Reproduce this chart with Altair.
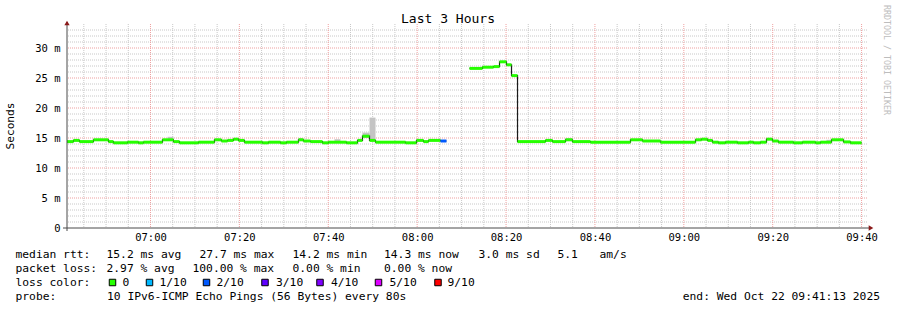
import altair as alt
import pandas as pd

FONT = "DejaVu Sans Mono"
W, H = 800, 204          # plot area
X0, Y0 = 67, 24          # plot origin inside the 897x310 window

# ---------------- data ----------------
t_start = "06:41:13"
t_end = "09:41:13"

# median rtt runs: start time, value (ms), loss (tenths); None = no data (100% loss)
seg_start = [
    "06:41:13", "06:42:40", "06:44:02", "06:47:10", "06:50:33", "06:51:40", "06:54:50",
    "06:57:18", "06:58:25", "07:02:42", "07:05:10", "07:06:32", "07:10:48", "07:14:24",
    "07:15:58", "07:17:20", "07:18:40", "07:19:48", "07:21:09", "07:25:12", "07:26:33",
    "07:29:15", "07:30:36", "07:33:18", "07:34:25", "07:36:00", "07:38:42", "07:40:03",
    "07:44:06", "07:46:35", "07:47:42", "07:49:17", "07:50:38", "07:57:23", "07:59:51",
    "08:01:26", "08:02:33", "08:05:15", "08:06:36",
    "08:11:47", "08:14:42", "08:17:11", "08:18:32", "08:20:06", "08:21:14", "08:22:35",
    "08:28:53", "08:30:27", "08:33:23", "08:34:57", "08:39:00", "08:48:00", "08:50:42",
    "08:54:45", "09:02:38", "09:03:59", "09:05:20", "09:06:27", "09:07:48", "09:09:23",
    "09:12:05", "09:14:33", "09:15:41", "09:17:15", "09:18:36", "09:19:57", "09:21:18",
    "09:24:41", "09:26:42", "09:29:38", "09:30:45", "09:33:14", "09:35:56", "09:37:30",
]
seg_ms = [
    14.4, 14.6, 14.4, 14.7, 14.4, 14.2, 14.3,
    14.2, 14.3, 14.7, 14.4, 14.2, 14.3, 14.7,
    14.5, 14.6, 14.8, 14.6, 14.3, 14.2, 14.3,
    14.2, 14.3, 14.7, 14.5, 14.4, 14.2, 14.3,
    14.2, 14.6, 15.3, 14.6, 14.3, 14.2, 14.6,
    14.4, 14.6, 14.5, None,
    26.6, 26.8, 26.9, 27.7, 27.2, 25.4, 14.4,
    14.6, 14.4, 14.7, 14.4, 14.3, 14.7, 14.5,
    14.3, 14.7, 14.8, 14.6, 14.3, 14.2, 14.3,
    14.2, 14.3, 14.2, 14.3, 14.8, 14.5, 14.3,
    14.2, 14.3, 14.2, 14.3, 14.7, 14.35, 14.2,
]
seg_loss = [0] * 37 + [2, None] + [0] * 35
last_end = "09:40:00"

# smoke (spread of the pings)
smoke_start = ["06:47:58", "07:03:50", "07:33:18", "07:41:24", "07:47:42", "07:49:17", "08:33:23", "09:32:06"]
smoke_end = ["06:49:19", "07:05:10", "07:34:25", "07:42:45", "07:49:17", "07:50:38", "08:34:57", "09:33:14"]
smoke_lo = [14.5, 14.7, 14.6, 14.3, 15.0, 14.8, 14.6, 14.3]
smoke_hi = [14.85, 15.2, 15.0, 14.8, 15.9, 18.4, 15.0, 14.7]

# axis ticks
y_major = [0, 5, 10, 15, 20, 25, 30]
x_major = ["07:00", "07:20", "07:40", "08:00", "08:20", "08:40", "09:00", "09:20", "09:40"]

# legend
loss_labels = ["0", "1/10", "2/10", "3/10", "4/10", "5/10", "9/10"]
loss_colors = ["#26ff00", "#00b8ff", "#0059ff", "#5e00ff", "#7e00ff", "#dd00ff", "#ff0000"]
loss_keys = ["0", "1", "2", "3", "4", "5", "9"]

line1 = ["median rtt:", "15.2 ms avg", "27.7 ms max", "14.2 ms min", "14.3 ms now", "3.0 ms sd", "5.1", "am/s"]
line2 = ["packet loss:", "2.97 % avg", "100.00 % max", "0.00 % min", "0.00 % now"]
probe_txt = ["probe:", "10 IPv6-ICMP Echo Pings (56 Bytes) every 80s"]
end_txt = "end: Wed Oct 22 09:41:13 2025"
title_txt = "Last 3 Hours"
ytitle_txt = "Seconds"
credit_txt = "RRDTOOL / TOBI OETIKER"


def clock(s):
    h, m, sec = (int(v) for v in s.split(":"))
    return h * 60 + m + sec / 60.0


# ---------------- tables ----------------
starts = [clock(s) for s in seg_start]
ends = starts[1:] + [clock(last_end)]
runs, pts = [], []
g = 0
for i, (s, e, v, l) in enumerate(zip(starts, ends, seg_ms, seg_loss)):
    if v is None:
        g += 1
        continue
    runs.append(dict(t=s, t2=e, ms=v, loss=str(l)))
    pts.append(dict(t=s, ms=v, g=g))
    nxt_none = (i + 1 >= len(seg_ms)) or (seg_ms[i + 1] is None)
    if nxt_none:
        pts.append(dict(t=e, ms=v, g=g))
runs = pd.DataFrame(runs)
pts = pd.DataFrame(pts)
smoke = pd.DataFrame(dict(t=[clock(s) for s in smoke_start], t2=[clock(s) for s in smoke_end],
                          lo=smoke_lo, hi=smoke_hi))

x_lo, x_hi = clock(t_start), clock(t_end)
x_major_v = [clock(s + ":00") for s in x_major]
minor_x = pd.DataFrame(dict(v=[m for m in range(405, 581, 5) if m % 20 != 0]))
major_x = pd.DataFrame(dict(v=x_major_v))
minor_y = pd.DataFrame(dict(v=[k for k in range(1, 34) if k % 5 != 0]))
major_y = pd.DataFrame(dict(v=[k for k in y_major if k > 0]))
dummy = pd.DataFrame(dict(a=[0]))

xscale = alt.Scale(domain=[x_lo, x_hi], nice=False, zero=False)
yscale = alt.Scale(domain=[0, 34], nice=False, zero=True)
xlabel = ("(floor(datum.value/60) < 10 ? '0' : '') + floor(datum.value/60) + ':' + "
          "(round(datum.value % 60) < 10 ? '0' : '') + round(datum.value % 60)")
xaxis = alt.Axis(values=x_major_v, labelExpr=xlabel, grid=False, domain=False, ticks=False,
                 labelFont=FONT, labelFontSize=10.5, labelColor="#000", labelPadding=4,
                 labelBaseline="top", title=None)
yaxis = alt.Axis(values=y_major, labelExpr="datum.value == 0 ? '0\u00a0\u00a0' : datum.value + ' m'",
                 grid=False, domain=False, ticks=False, labelFont=FONT, labelFontSize=10.5,
                 labelColor="#000", labelPadding=7, title=None)


def X(field="t"):
    return alt.X(f"{field}:Q", scale=xscale, axis=xaxis)


def Y(field="ms"):
    return alt.Y(f"{field}:Q", scale=yscale, axis=yaxis)


layers = []
# grid
layers.append(alt.Chart(minor_y).mark_rule(color="#c8c8c8", strokeWidth=1, strokeDash=[1, 1]).encode(y=Y("v")))
layers.append(alt.Chart(minor_x).mark_rule(color="#c8c8c8", strokeWidth=1, strokeDash=[1, 1]).encode(x=X("v")))
layers.append(alt.Chart(major_y).mark_rule(color="#efa0a0", strokeWidth=1, strokeDash=[1, 1]).encode(y=Y("v")))
layers.append(alt.Chart(major_x).mark_rule(color="#efa0a0", strokeWidth=1, strokeDash=[1, 1]).encode(x=X("v")))
# smoke
layers.append(alt.Chart(smoke).mark_rect(color="#c4c4c4").encode(x=X("t"), x2="t2:Q", y=Y("lo"), y2="hi:Q"))
# median line (thin dark step) and loss-coloured runs
layers.append(alt.Chart(pts).mark_line(interpolate="step-after", color="#1a1a1a", strokeWidth=1.2).encode(
    x=X("t"), y=Y("ms"), detail="g:N"))
layers.append(alt.Chart(runs).mark_rule(strokeWidth=3, strokeCap="butt").encode(
    x=X("t"), x2="t2:Q", y=Y("ms"),
    color=alt.Color("loss:N", scale=alt.Scale(domain=loss_keys, range=loss_colors), legend=None)))
# axes lines and arrows
layers.append(alt.Chart(dummy).mark_rule(color="#4a4a4a", strokeWidth=1).encode(
    x=alt.value(-4), x2=alt.value(W + 3), y=alt.value(H)))
layers.append(alt.Chart(dummy).mark_rule(color="#4a4a4a", strokeWidth=1).encode(
    x=alt.value(0), y=alt.value(H + 3), y2=alt.value(-2)))
layers.append(alt.Chart(dummy).mark_point(shape="triangle-up", filled=True, color="#8b1a1a", size=28, opacity=1).encode(
    x=alt.value(0), y=alt.value(-1)))
layers.append(alt.Chart(dummy).mark_point(shape="triangle-right", filled=True, color="#8b1a1a", size=28, opacity=1).encode(
    x=alt.value(W + 4), y=alt.value(H)))


def txt(s, x, y, size=11.3, color="#000", align="left", angle=0):
    return alt.Chart(dummy).mark_text(text=s, font=FONT, fontSize=size, color=color, align=align,
                                      baseline="middle", angle=angle).encode(
        x=alt.value(x - X0), y=alt.value(y - Y0))


layers.append(txt(title_txt, 448, 19, size=13, align="center"))
layers.append(txt(ytitle_txt, 11, 126, size=11.2, align="center", angle=270))
layers.append(txt(credit_txt, 886, 5, size=8.3, color="#bdbdbd", angle=90))

for s, x in zip(line1, [16, 107, 200, 293, 384.5, 479, 558, 600]):
    layers.append(txt(s, x - 0.5, 255))
for s, x in zip(line2, [16, 107, 193, 293, 384.5]):
    layers.append(txt(s, x - 0.5, 269))
layers.append(txt("loss color:", 15.5, 283))
for lab, col, bx, tx in zip(loss_labels, loss_colors,
                            [112.5, 149.5, 206.5, 265, 320, 378.5, 438],
                            [123, 160, 217, 276.5, 331.5, 390, 448]):
    layers.append(alt.Chart(dummy).mark_square(size=42, fill=col, stroke="#000", strokeWidth=1, opacity=1).encode(
        x=alt.value(bx - X0), y=alt.value(282.5 - Y0)))
    layers.append(txt(lab, tx - 0.5, 283))
layers.append(txt(probe_txt[0], 15.5, 297))
layers.append(txt(probe_txt[1], 107, 297))
layers.append(txt(end_txt, 880, 297, align="right"))

chart = alt.layer(*layers).properties(
    width=W, height=H,
    autosize=alt.AutoSizeParams(type="none"),
    padding={"left": X0, "top": Y0, "right": 897 - X0 - W, "bottom": 310 - Y0 - H},
    background="#ffffff",
).configure_view(stroke=None)

chart.save("out.html", embed_options={"renderer": "svg", "actions": False})
